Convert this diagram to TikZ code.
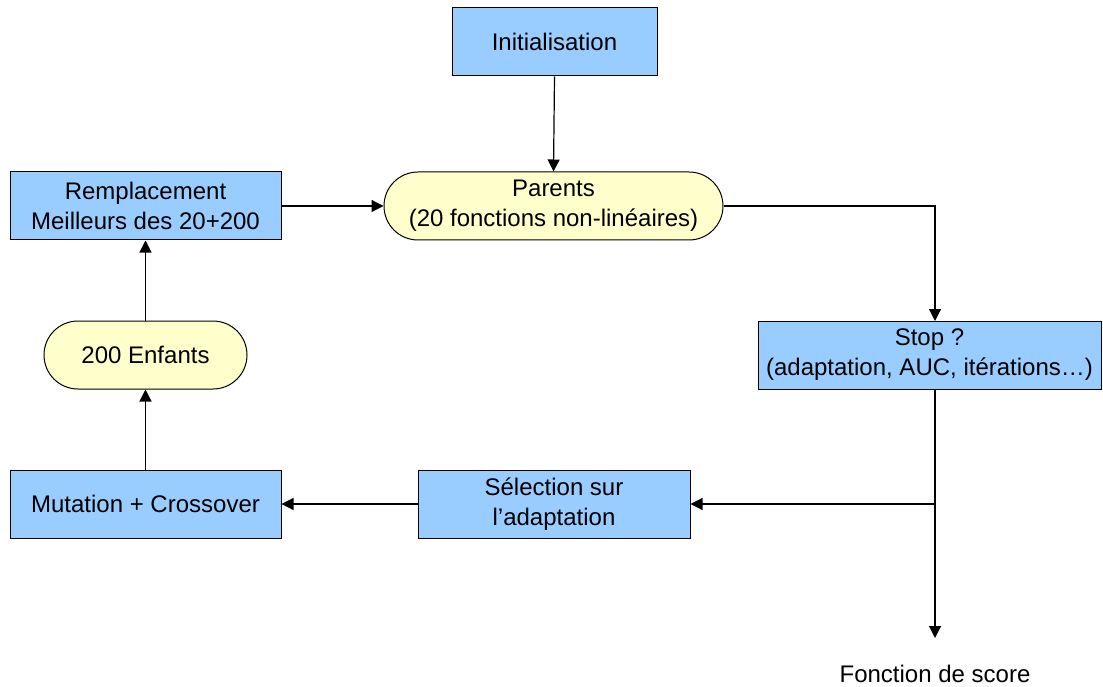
\documentclass[tikz,border=0pt]{standalone}
\usepackage{fontspec}
\setmainfont{Liberation Sans}
\usetikzlibrary{arrows.meta}
\definecolor{boxblue}{HTML}{99CCFF}
\definecolor{boxyellow}{HTML}{FFFFCC}
\begin{document}
\begin{tikzpicture}[x=1pt,y=-1pt,
  every node/.style={font=\fontsize{24}{30}\selectfont, align=center, inner sep=0pt},
  bluebox/.style={draw=black, line width=1pt, fill=boxblue, minimum height=68pt},
  yelbox/.style={draw=black, line width=1pt, fill=boxyellow, minimum height=68pt, rounded corners=34pt},
  conn/.style={draw=black, line width=1.2pt, -{Triangle[length=12pt,width=12pt]}},
  plain/.style={draw=black, line width=1pt}]
\useasboundingbox (0,0) rectangle (1103,687);
\node[bluebox, minimum width=205pt] (init) at (554.5,42) {Initialisation};
\node[yelbox, minimum width=339pt] (par) at (553.5,206) {Parents\\(20 fonctions non-linéaires)};
\node[bluebox, minimum width=271pt] (rem) at (145.5,206) {Remplacement\\Meilleurs des 20+200};
\node[bluebox, minimum width=343pt] (stop) at (929.5,355) {Stop ?\\(adaptation, AUC, itérations…)};
\node[yelbox, minimum width=203pt] (enf) at (145.5,355) {200 Enfants};
\node[bluebox, minimum width=271pt] (mut) at (145.5,504) {Mutation + Crossover};
\node[bluebox, minimum width=272pt] (sel) at (554,504) {Sélection sur\\l’adaptation};
\node (fs) at (935,674) {Fonction de score};
\coordinate (corner) at (935,206);
\coordinate (stoptop) at (935,321);
\coordinate (stopbot) at (935,389);
\coordinate (branch) at (935,504);
\coordinate (fsend) at (935,638);
\draw[conn] (init.south) -- (par.north);
\draw[conn] (rem.east) -- (par.west);
\draw[conn] (par.east) -- (corner) -- (stoptop);
\draw[conn] (stopbot) -- (fsend);
\draw[conn] (branch) -- (sel.east);
\draw[conn] (sel.west) -- (mut.east);
\draw[conn] (mut.north) -- (enf.south);
\draw[conn] (enf.north) -- (rem.south);
\end{tikzpicture}
\end{document}
